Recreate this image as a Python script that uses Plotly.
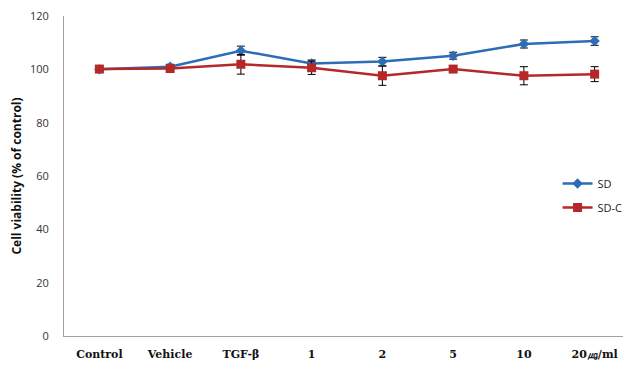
import plotly.graph_objects as go

categories = ["Control", "Vehicle", "TGF-β", "1", "2", "5", "10", "20㎍/ml"]
sd_values = [100.0, 101.0, 107.0, 102.2, 102.9, 105.1, 109.5, 110.6]
sd_err = [0.5, 0.9, 1.7, 1.3, 1.6, 1.3, 1.5, 1.6]
sdc_values = [100.1, 100.3, 101.9, 100.6, 97.6, 100.1, 97.6, 98.2]
sdc_err = [0.6, 1.0, 3.7, 2.5, 3.6, 0.9, 3.4, 2.8]
y_ticks = [0, 20, 40, 60, 80, 100, 120]

blue = "#2C6DB8"
red = "#B5282A"

fig = go.Figure()
fig.add_trace(go.Scatter(
    x=categories, y=sd_values, name="SD", mode="lines+markers", legendgroup="a",
    line=dict(color=blue, width=2.5),
    marker=dict(symbol="diamond", size=8, color=blue),
    error_y=dict(type="data", array=sd_err, color="black", thickness=1, width=4),
))
fig.add_trace(go.Scatter(
    x=categories, y=sdc_values, name="SD-C", mode="lines+markers", legendgroup="b",
    line=dict(color=red, width=2.5),
    marker=dict(symbol="square", size=9, color=red),
    error_y=dict(type="data", array=sdc_err, color="black", thickness=1, width=4),
))

fig.update_layout(
    width=623, height=357,
    margin=dict(l=56, r=1, t=8, b=29),
    plot_bgcolor="white", paper_bgcolor="white",
    showlegend=True,
    legend=dict(x=0.872, y=0.439, xanchor="left", yanchor="middle",
                font=dict(family="Open Sans", size=11, color="#222"),
                bgcolor="rgba(0,0,0,0)", tracegroupgap=5, itemwidth=30),
    xaxis=dict(
        type="category", showline=True, linecolor="#A0A0A0", linewidth=1,
        showgrid=False, ticks="", range=[-0.5, 7.5], ticklabelstandoff=8,
        automargin=False,
        tickfont=dict(family="DejaVu Serif", size=11, color="#111"),
    ),
    yaxis=dict(
        range=[0, 120], tickvals=y_ticks, showline=True, linecolor="#A0A0A0",
        linewidth=1, showgrid=False, ticks="", ticklabelstandoff=12,
        ticklabeloverflow="allow", automargin=False,
        tickfont=dict(family="Open Sans", size=11, color="#333"),
        title=dict(text="<b>Cell viability (% of control)</b>",
                   font=dict(family="Open Sans", size=12, color="#111"), standoff=15),
        zeroline=False,
    ),
)
fig.update_xaxes(tickvals=categories, ticktext=["<b>%s</b>" % c for c in categories])
fig.write_html("out.html")
